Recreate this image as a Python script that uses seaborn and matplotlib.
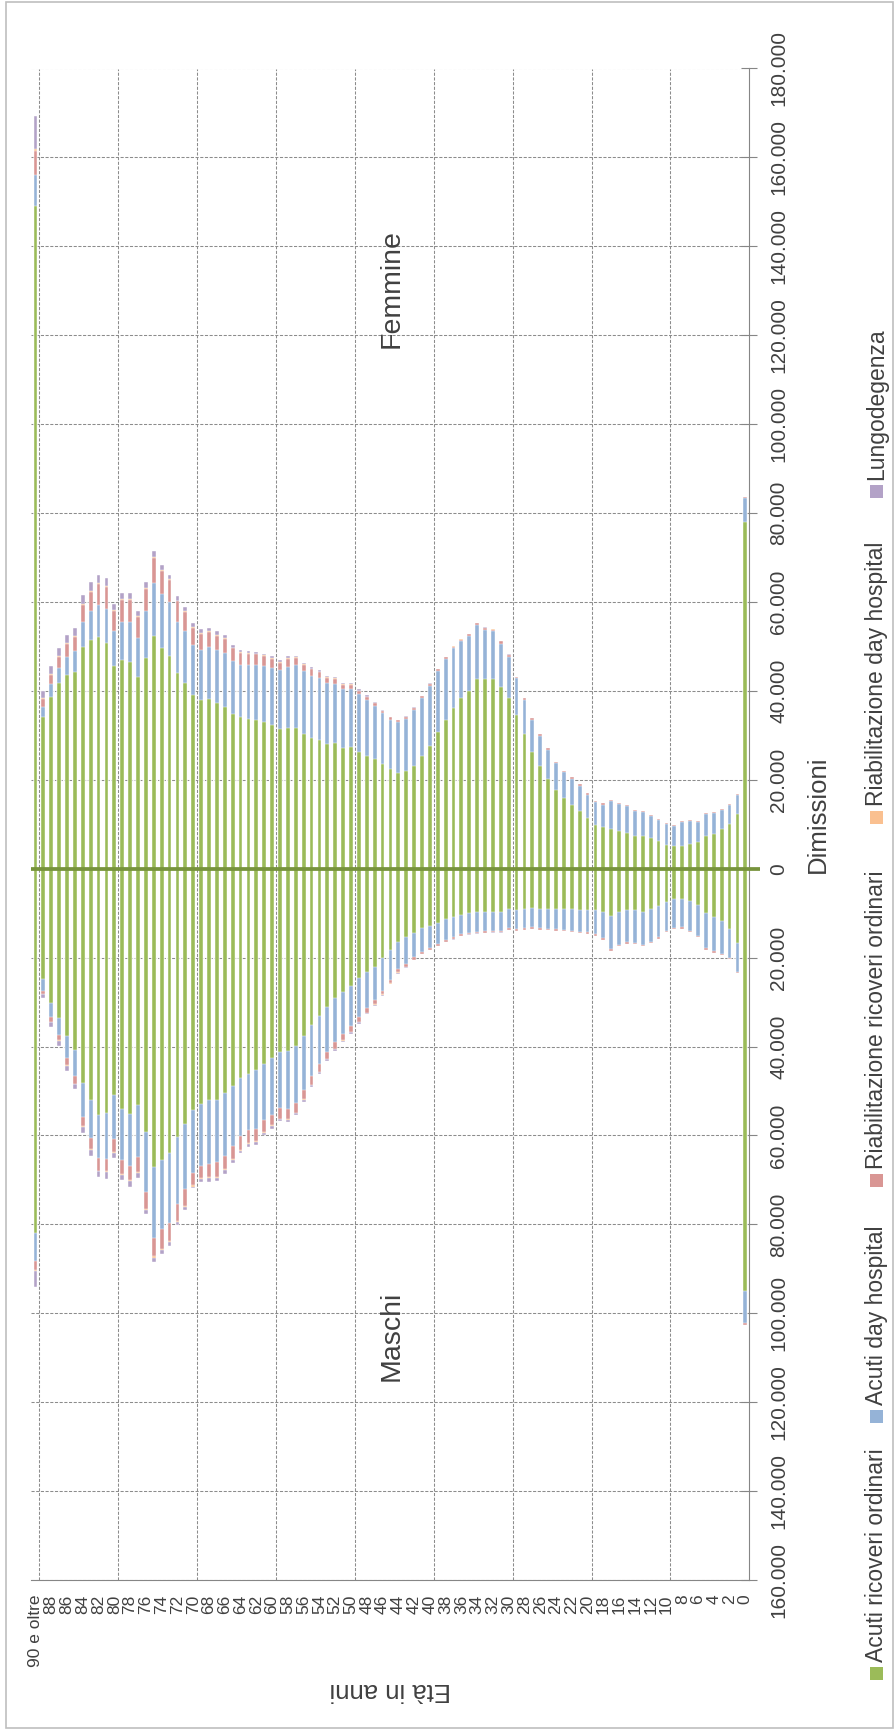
import numpy as np
import pandas as pd
import matplotlib
matplotlib.use("Agg")
import matplotlib.pyplot as plt
from matplotlib.patches import Rectangle
from matplotlib.ticker import FixedLocator, FuncFormatter
import seaborn as sns

# ---------------------------------------------------------------------------
# Dimissioni per età (0..89, "90 e oltre") e tipo di ricovero
# ---------------------------------------------------------------------------
ages = [str(a) for a in range(90)] + ["90 e oltre"]

femmine_acuti_ord = [
    78000, 12360, 9960, 8910, 7790, 7270, 5920, 5470, 5170, 5020,
    5390, 6140, 6820, 7270, 7270, 8090, 8460, 8910, 9290, 9810,
    11310, 12880, 14230, 15880, 17600, 20150, 23000, 26300, 30230, 34570,
    38500, 40880, 42640, 42640, 42640, 40050, 38400, 36120, 33540, 30800,
    27680, 25420, 23160, 22030, 21510, 22480, 23650, 24770, 25370, 26330,
    27400, 27250, 28240, 28110, 28970, 29500, 30350, 31750, 31600, 31480,
    32330, 32920, 33430, 33640, 34060, 34880, 36430, 37360, 38190, 37880,
    39120, 41810, 43980, 47800, 49560, 52350, 47490, 43050, 46460, 46870,
    45630, 50800, 52040, 51420, 49770, 44290, 43570, 41810, 38710, 34060,
    149000]
femmine_acuti_dh = [
    5300, 4120, 4350, 4350, 4720, 4940, 4570, 5170, 5240, 4640,
    4650, 4870, 5090, 5390, 5760, 6070, 6150, 6220, 5090, 5170,
    5320, 5770, 5990, 5840, 6140, 6590, 6900, 7240, 7760, 8270,
    9200, 9720, 10750, 11160, 12190, 12300, 12710, 13440, 13640, 13590,
    13410, 12980, 12650, 11710, 11510, 11060, 11440, 11870, 12620, 12900,
    13070, 13220, 13360, 13700, 13870, 13860, 14040, 14090, 13830, 13120,
    12890, 12610, 12410, 12200, 11780, 11780, 12090, 11890, 11680, 11270,
    11270, 11680, 11580, 12100, 12200, 11890, 10550, 8790, 9100, 8690,
    7860, 7650, 7340, 6620, 5790, 4650, 4130, 3410, 2890, 2370,
    7000]
femmine_riab_ord = [
    300, 250, 250, 250, 250, 250, 250, 250, 250, 250,
    250, 250, 250, 250, 250, 250, 250, 250, 300, 300,
    300, 300, 300, 300, 300, 300, 300, 310, 410, 310,
    410, 510, 410, 410, 420, 410, 410, 410, 420, 520,
    510, 410, 410, 420, 410, 520, 410, 620, 620, 720,
    930, 930, 1140, 1140, 1350, 1450, 1450, 1650, 1750, 1650,
    1960, 2270, 2370, 2480, 2680, 2900, 3100, 3200, 3310, 3720,
    3820, 4340, 4550, 4960, 5170, 5690, 4960, 4750, 4850, 4850,
    4550, 4860, 4650, 4240, 3720, 3200, 2900, 2480, 2070, 1760,
    5500]
femmine_riab_dh = [
    0, 0, 0, 0, 0, 0, 0, 0, 0, 0,
    0, 0, 0, 0, 0, 0, 0, 0, 0, 0,
    0, 0, 0, 0, 0, 0, 0, 0, 0, 0,
    40, 40, 40, 40, 40, 40, 40, 40, 40, 40,
    40, 40, 40, 40, 60, 60, 60, 80, 80, 80,
    100, 100, 100, 100, 120, 120, 120, 140, 140, 140,
    160, 160, 170, 170, 180, 180, 190, 190, 200, 200,
    210, 210, 220, 220, 230, 230, 220, 220, 220, 220,
    210, 210, 200, 200, 190, 180, 170, 160, 150, 140,
    350]
femmine_lungo = [
    0, 0, 0, 0, 0, 0, 0, 0, 0, 0,
    0, 0, 0, 0, 0, 0, 0, 0, 0, 0,
    0, 0, 0, 0, 0, 0, 0, 0, 0, 0,
    50, 50, 50, 50, 50, 50, 50, 50, 50, 50,
    50, 50, 50, 50, 50, 50, 100, 210, 310, 310,
    200, 200, 310, 410, 410, 410, 410, 310, 420, 520,
    420, 410, 310, 410, 520, 620, 730, 730, 730, 830,
    930, 830, 1030, 1030, 1240, 1340, 1240, 1240, 1350, 1350,
    1340, 1760, 1860, 1960, 2170, 1860, 1850, 1760, 1750, 1550,
    7400]

maschi_acuti_ord = [
    95100, 16620, 13540, 11810, 10830, 10000, 8120, 7370, 6770, 6840,
    7520, 8350, 9100, 9630, 9330, 9250, 9780, 10750, 9780, 9400,
    9250, 9250, 9100, 9100, 9100, 9020, 9020, 8870, 9020, 9250,
    9100, 9700, 9700, 9700, 9850, 10000, 10380, 10900, 11350, 12110,
    12860, 13390, 14360, 15420, 16390, 18270, 20150, 22180, 23310, 24670,
    26400, 27670, 29180, 31060, 33160, 35190, 37680, 39930, 41060, 41210,
    42490, 43840, 45350, 46100, 47000, 48800, 50380, 51960, 52110, 52870,
    54220, 57380, 60380, 63920, 65500, 67150, 59260, 53240, 55270, 54140,
    50990, 54970, 55350, 52110, 48200, 40830, 37680, 33540, 30150, 24890,
    81900]
maschi_acuti_dh = [
    7200, 6620, 6610, 7370, 7740, 7900, 6990, 6620, 6390, 6400,
    6470, 7070, 7290, 7520, 7290, 7290, 7370, 7370, 5860, 5340,
    5040, 4960, 4810, 4660, 4510, 4440, 4370, 4290, 4370, 4290,
    4290, 4210, 4210, 4360, 4290, 4360, 4280, 4520, 4670, 4880,
    5040, 5260, 5570, 6010, 6240, 6770, 7300, 7370, 8120, 8640,
    9020, 9400, 9770, 10150, 10680, 11510, 12030, 12710, 12930, 12560,
    12860, 12790, 13310, 12780, 13230, 13540, 14140, 14070, 14290, 13910,
    14210, 14660, 15040, 15690, 15630, 15850, 13530, 11660, 11510, 11360,
    9920, 10300, 9700, 8420, 7670, 5720, 4880, 3910, 3310, 2560,
    6450]
maschi_riab_ord = [
    300, 230, 230, 300, 300, 300, 300, 300, 300, 300,
    300, 300, 300, 300, 300, 300, 300, 300, 300, 300,
    300, 300, 300, 300, 300, 300, 300, 380, 370, 370,
    370, 380, 380, 380, 370, 380, 450, 450, 450, 380,
    370, 530, 600, 600, 680, 750, 820, 980, 980, 1130,
    1280, 1510, 1510, 1580, 1880, 1880, 2180, 2250, 2410, 2480,
    2400, 2630, 2630, 2860, 2940, 2930, 3010, 3230, 3010, 2780,
    2800, 3760, 3760, 4040, 4340, 4210, 3760, 3380, 3230, 3160,
    2860, 2790, 2850, 2490, 2110, 1800, 1660, 1130, 980, 750,
    1850]
maschi_riab_dh = [
    0, 0, 0, 0, 0, 0, 0, 0, 0, 0,
    0, 0, 0, 0, 0, 0, 0, 0, 0, 0,
    0, 0, 0, 0, 0, 0, 0, 0, 0, 0,
    40, 40, 40, 40, 40, 40, 40, 40, 40, 40,
    40, 40, 40, 60, 60, 60, 80, 80, 80, 80,
    100, 100, 100, 120, 120, 120, 140, 140, 160, 160,
    180, 180, 200, 200, 220, 220, 240, 240, 260, 260,
    300, 280, 280, 260, 260, 260, 240, 240, 220, 220,
    200, 200, 180, 180, 160, 150, 140, 120, 100, 80,
    300]
maschi_lungo = [
    0, 0, 0, 0, 0, 0, 0, 0, 0, 0,
    0, 0, 0, 0, 0, 0, 0, 0, 0, 0,
    0, 0, 0, 0, 0, 0, 0, 0, 0, 0,
    50, 50, 50, 50, 50, 50, 50, 50, 50, 50,
    50, 50, 50, 150, 230, 150, 230, 380, 300, 380,
    370, 370, 370, 300, 380, 370, 370, 460, 450, 380,
    530, 520, 600, 600, 670, 760, 900, 750, 750, 750,
    400, 600, 750, 900, 980, 960, 980, 980, 1280, 1130,
    1130, 1500, 1360, 1350, 1350, 1130, 1130, 1120, 980, 830,
    3500]

series_names = ["Acuti ricoveri ordinari", "Acuti day hospital",
                "Riabilitazione ricoveri ordinari", "Riabilitazione day hospital",
                "Lungodegenza"]
series_colors = ["#9BBB59", "#95B3D7", "#D99694", "#FAC090", "#B3A2C7"]

femmine = [femmine_acuti_ord, femmine_acuti_dh, femmine_riab_ord, femmine_riab_dh, femmine_lungo]
maschi = [maschi_acuti_ord, maschi_acuti_dh, maschi_riab_ord, maschi_riab_dh, maschi_lungo]

# ---------------------------------------------------------------------------
sns.set_style("white")
plt.rcParams["font.family"] = ["Liberation Sans", "DejaVu Sans"]

text_col = "#404040"
axis_col = "#868686"
grid_col = "#8c8c8c"

W, H = 895, 1730
fig = plt.figure(figsize=(W / 100, H / 100), dpi=100)

# plot area in pixels (left, right, top, bottom)
pl, pr, pt, pb = 31.5, 749.3, 68.5, 1580.0
ax = fig.add_axes([pl / W, 1 - pb / H, (pr - pl) / W, (pb - pt) / H])

order = ages[::-1]  # "90 e oltre" on the left, age 0 on the right


def stacked_side(parts, sign):
    """Draw stacked bars by overlaying cumulative totals, largest first."""
    cums = np.cumsum(np.array(parts, dtype=float), axis=0)
    for level in range(len(parts) - 1, -1, -1):
        df = pd.DataFrame({"eta": ages, "dimissioni": sign * cums[level]})
        sns.barplot(data=df, x="eta", y="dimissioni", order=order,
                    color=series_colors[level], saturation=1, width=0.48,
                    errorbar=None, edgecolor="white", linewidth=0.3,
                    ax=ax, zorder=2)


stacked_side(femmine, 1)
stacked_side(maschi, -1)

ax.set_xlabel("")
ax.set_ylabel("")
ax.set_xlim(-0.5, 90.5)
ax.set_ylim(-160000, 180000)

# dashed grid
yvals = np.arange(-160000, 180001, 20000)
for v in yvals:
    ax.axhline(v, color=grid_col, lw=0.75, ls=(0, (3, 1.5)), zorder=0.5)
xgrid = [0.5 + 10 * k for k in range(9)]
for xv in xgrid:
    ax.axvline(xv, color=grid_col, lw=0.75, ls=(0, (3, 1.5)), zorder=0.5)

# spines
ax.spines["top"].set_visible(False)
ax.spines["left"].set_visible(False)
for s in ["right", "bottom"]:
    ax.spines[s].set_visible(True)
    ax.spines[s].set_color(axis_col)
    ax.spines[s].set_linewidth(0.8)

# age axis (bottom)
pos = list(range(0, 91, 2))
ax.set_xticks(pos)
ax.set_xticklabels([order[i] for i in pos])
ax.xaxis.set_minor_locator(FixedLocator(xgrid + [90.5]))
ax.tick_params(axis="x", which="major", length=0, pad=10.5,
               labelsize=12.5, labelcolor=text_col, labelrotation=90)
ax.tick_params(axis="x", which="minor", direction="inout", length=4.5,
               width=0.8, color=axis_col)

# value axis (right)
ax.yaxis.tick_right()
ax.set_yticks(yvals)
ax.yaxis.set_major_formatter(
    FuncFormatter(lambda v, p: f"{abs(int(round(v))):,}".replace(",", ".")))
ax.tick_params(axis="y", which="major", direction="inout", length=11,
               width=0.8, color=axis_col, pad=9, labelsize=15,
               labelcolor=text_col, labelrotation=90, left=False, right=True)
plt.setp(ax.get_yticklabels(), va="center", ha="left")

# thick zero line across the age axis
ax.plot([-0.5, 91.86], [0, 0], color="#77933C", lw=2.7,
        solid_capstyle="butt", clip_on=False, zorder=6)

# sex labels inside the plot
ax.text(45.1, 130600, "Femmine", rotation=90, ha="center", va="center",
        fontsize=20.5, color=text_col, zorder=7)
ax.text(45.1, -105100, "Maschi", rotation=90, ha="center", va="center",
        fontsize=20.5, color=text_col, zorder=7)

# axis titles
fig.text(818 / W, 1 - 814 / H, "Dimissioni", rotation=90, ha="center",
         va="center", fontsize=18.5, color=text_col)
fig.text(390 / W, 1 - 1690 / H, "Età in anni", rotation=180, ha="center",
         va="center", fontsize=18.5, color=text_col)

# legend, drawn along the right edge
legend_sq_top = [1667, 1410, 1174, 811, 485]
for name, col, top in zip(series_names, series_colors, legend_sq_top):
    fig.add_artist(Rectangle((870 / W, 1 - (top + 13) / H), 13 / W, 13 / H,
                             transform=fig.transFigure, facecolor=col,
                             edgecolor="none"))
    fig.text(876.5 / W, 1 - (top - 5) / H, name, rotation=90, ha="center",
             va="bottom", fontsize=16.5, color=text_col)

# chart frame
fig.add_artist(Rectangle((6.5 / W, 2 / H), (893 - 6.5) / W, (1728 - 2) / H,
                         transform=fig.transFigure, fill=False,
                         edgecolor="#bfbfbf", lw=1.2))

fig.savefig("out.png", dpi=100)
